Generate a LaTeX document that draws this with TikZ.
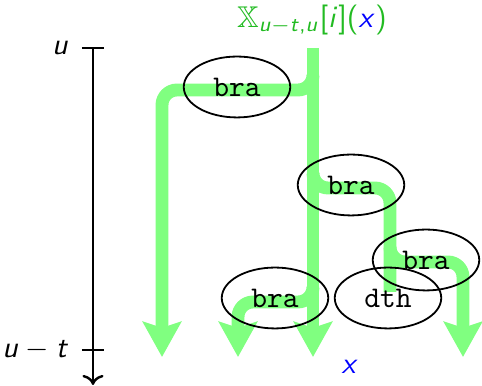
\documentclass[tikz,border=0pt]{standalone}
\usepackage{amsmath,amssymb}
\usepackage{xcolor}
\usepackage{tikz}
\usetikzlibrary{positioning,calc,shapes.geometric,arrows.meta}

\DeclareMathVersion{sansv}
\SetSymbolFont{operators}{sansv}{OT1}{cmss}{m}{n}
\SetSymbolFont{letters}{sansv}{OT1}{cmss}{m}{sl}
\newcommand{\sfcomma}{\mathchar"602C\relax}

\definecolor{lingreen}{RGB}{128,255,128}
\definecolor{labgreen}{RGB}{34,187,34}

\begin{document}
\begin{tikzpicture}[
  x=3.333pt, y=3.333pt,
  font=\mathversion{sansv},
  lineage/.style={line width=4.3pt, lingreen, rounded corners=5pt,
    -{Stealth[length=11.7pt, width=12.7pt, inset=2pt]}},
  dead/.style={line width=4.3pt, lingreen, rounded corners=5pt},
  evt/.style={ellipse, draw, semithick, inner sep=0pt,
    minimum width=35.5pt, minimum height=20.3pt, font=\ttfamily},
  tick/.style={thick}
]
  \useasboundingbox (0,0) rectangle (48.2,38.6);

  % time axis
  \coordinate (tu) at (9.3,33.8);
  \coordinate (tut) at (9.3,3.6);
  \coordinate (tend) at (9.3,0.1);
  \draw[thick,->] (tu) -- (tend);
  \draw[tick] ([xshift=-3.7pt]tu) -- ([xshift=3.7pt]tu);
  \draw[tick] ([xshift=-3.7pt]tut) -- ([xshift=3.7pt]tut);
  \node[left=4.5pt of tu] (lu) {$u$};
  \node[left=4.5pt of tut] (lut) {$u-t$};

  % branch points and ends
  \coordinate (top) at (31.3,33.8);
  \coordinate (b1) at (31.3,29.6);
  \coordinate (b2) at (31.3,19.8);
  \coordinate (b3) at (39.0,12.4);
  \coordinate (b4) at (31.3,8.4);
  \coordinate (endA) at (16.2,2.9);
  \coordinate (endB) at (23.8,2.9);
  \coordinate (endC) at (31.3,2.9);
  \coordinate (endD) at (46.3,2.9);
  \coordinate (death) at (39.0,9.4);

  \draw[lineage] (top) -- (endC);
  \draw[lineage] ($(b1)+(0,1.5)$) -- (b1) -- (b1 -| endA) -- (endA);
  \draw[dead] ($(b2)+(0,1.5)$) -- (b2) -- (b2 -| death) -- (death);
  \draw[lineage] ($(b3)+(0,1.5)$) -- (b3) -- (b3 -| endD) -- (endD);
  \draw[lineage] ($(b4)+(0,1.5)$) -- (b4) -- (b4 -| endB) -- (endB);

  % events
  \node[evt] (bra1) at (23.7,29.9) {bra};
  \node[evt] (bra2) at (35.1,20.1) {bra};
  \node[evt] (bra3) at (42.6,12.6) {bra};
  \node[evt] (dth) at (38.8,8.8) {dth};
  \node[evt] (bra4) at (27.5,8.8) {bra};

  \node[text=labgreen] (root) at (31.2,36.6) {$\mathbb{X}_{u-t\sfcomma u}[i](\textcolor{blue}{x})$};
  \node[text=blue] (leaf) at (35.0,1.9) {$x$};
\end{tikzpicture}
\end{document}
